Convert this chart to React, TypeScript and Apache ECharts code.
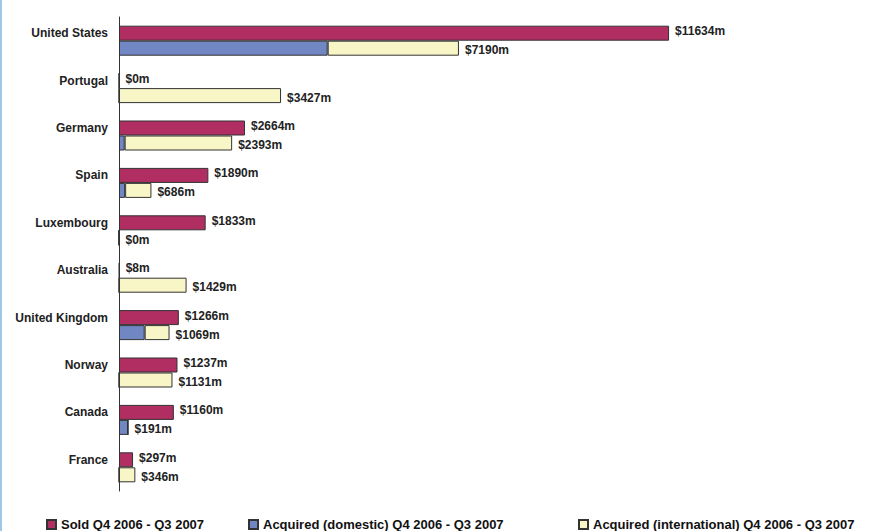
import React, { useEffect, useRef } from "react";
import * as echarts from "echarts";

const categories = [
  "United States",
  "Portugal",
  "Germany",
  "Spain",
  "Luxembourg",
  "Australia",
  "United Kingdom",
  "Norway",
  "Canada",
  "France",
];
const soldValues = [11634, 0, 2664, 1890, 1833, 8, 1266, 1237, 1160, 297];
const acquiredDomestic = [4414, 0, 120, 130, 0, 0, 543, 0, 191, 0];
const acquiredInternational = [2776, 3427, 2273, 556, 0, 1429, 526, 1131, 0, 346];
const acquiredTotal = [7190, 3427, 2393, 686, 0, 1429, 1069, 1131, 191, 346];
const seriesNames = [
  "Sold Q4 2006 - Q3 2007",
  "Acquired (domestic) Q4 2006 - Q3 2007",
  "Acquired (international) Q4 2006 - Q3 2007",
];

const FONT = "'Liberation Sans', Arial, sans-serif";

export default function App() {
  const ref = useRef<HTMLDivElement>(null);
  useEffect(() => {
    if (!ref.current) return;
    const chart = echarts.init(ref.current, null, { renderer: "svg" });
    const border = { borderColor: "#333333", borderWidth: 1 };
    const legendText = { fontFamily: FONT, fontSize: 13, fontWeight: "bold" as const, color: "#111" };
    const legendBase = {
      orient: "horizontal" as const,
      top: 513,
      itemWidth: 9,
      itemHeight: 9,
      icon: "rect",
      itemGap: 5,
      textStyle: legendText,
      selectedMode: false,
    };
    chart.setOption({
      animation: false,
      backgroundColor: "#ffffff",
      grid: { left: 119, top: 17, height: 474, right: 12.5, containLabel: false },
      xAxis: { type: "value", min: 0, max: 16000, show: false },
      yAxis: {
        type: "category",
        inverse: true,
        data: categories,
        axisTick: { show: false },
        axisLine: { show: true, lineStyle: { color: "#333333", width: 1 } },
        axisLabel: {
          margin: 11,
          fontFamily: FONT,
          fontSize: 12,
          fontWeight: "bold",
          color: "#222222",
          verticalAlign: "bottom",
          lineHeight: 15,
        },
        splitLine: { show: false },
      },
      legend: [
        { ...legendBase, left: 41, data: [seriesNames[0]] },
        { ...legendBase, left: 243, data: [seriesNames[1]] },
        { ...legendBase, left: 573, data: [seriesNames[2]] },
      ],
      graphic: [
        { type: "rect", left: 0, top: 0, shape: { width: 2, height: 531 }, style: { fill: "#9fc8e8" } },
      ],
      series: [
        {
          name: seriesNames[0],
          type: "bar",
          stack: "sold",
          data: soldValues,
          barWidth: 15,
          barGap: "0%",
          itemStyle: { color: "#B02E62", ...border },
          label: {
            show: true,
            position: "right",
            distance: 6,
            offset: [0, -2],
            fontFamily: FONT,
            fontSize: 12,
            fontWeight: "bold",
            color: "#222222",
            formatter: (p: any) => `$${soldValues[p.dataIndex]}m`,
          },
        },
        {
          name: seriesNames[1],
          type: "bar",
          stack: "acq",
          data: acquiredDomestic,
          barWidth: 15,
          barGap: "0%",
          itemStyle: { color: "#7087C4", ...border },
        },
        {
          name: seriesNames[2],
          type: "bar",
          stack: "acq",
          data: acquiredInternational,
          barWidth: 15,
          barGap: "0%",
          itemStyle: { color: "#F8F5C6", ...border },
          label: {
            show: true,
            position: "right",
            distance: 6,
            offset: [0, 2],
            fontFamily: FONT,
            fontSize: 12,
            fontWeight: "bold",
            color: "#222222",
            formatter: (p: any) => `$${acquiredTotal[p.dataIndex]}m`,
          },
        },
      ],
    });
    return () => chart.dispose();
  }, []);
  return (
    <div
      ref={ref}
      style={{ position: "fixed", left: 0, top: 0, width: 888, height: 531, background: "#fff" }}
    />
  );
}
